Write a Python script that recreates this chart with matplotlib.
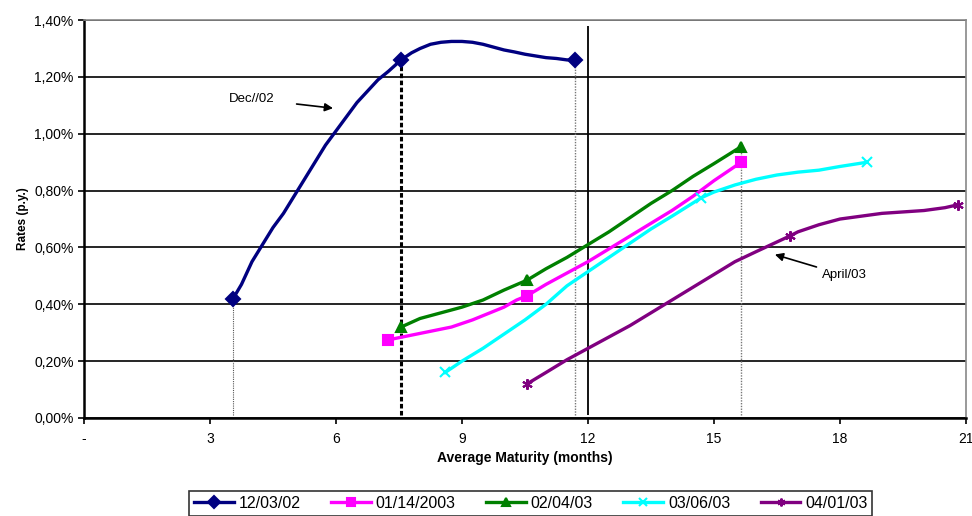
import matplotlib
matplotlib.use("Agg")
import matplotlib.pyplot as plt
from matplotlib.ticker import FuncFormatter

plt.rcParams['font.family'] = ['Liberation Sans', 'DejaVu Sans']

# 12/03/02
dec_x = [3.55, 3.75, 4.0, 4.25, 4.5, 4.75, 5.0, 5.25, 5.5, 5.75, 6.0, 6.25, 6.5, 6.75, 7.0, 7.25, 7.55,
         7.8, 8.0, 8.25, 8.5, 8.75, 9.0, 9.25, 9.5, 9.75, 10.0, 10.25, 10.5, 10.75, 11.0, 11.25, 11.5, 11.7]
dec_y = [0.42, 0.47, 0.55, 0.61, 0.67, 0.72, 0.78, 0.84, 0.90, 0.96, 1.01, 1.06, 1.11, 1.15, 1.19, 1.22, 1.26,
         1.285, 1.30, 1.315, 1.322, 1.325, 1.325, 1.322, 1.315, 1.305, 1.295, 1.288, 1.28, 1.274, 1.268, 1.265, 1.26, 1.26]
# 01/14/2003
jan_x = [7.25, 7.75, 8.25, 8.75, 9.25, 9.75, 10.0, 10.3, 10.55, 11.0, 11.5, 12.0, 12.5, 13.0, 13.5, 14.0, 14.5, 15.0, 15.65]
jan_y = [0.275, 0.29, 0.305, 0.32, 0.345, 0.375, 0.39, 0.415, 0.43, 0.47, 0.51, 0.55, 0.595, 0.64, 0.685, 0.73, 0.78, 0.835, 0.90]
# 02/04/03
feb_x = [7.55, 8.0, 8.5, 9.0, 9.5, 10.0, 10.55, 11.0, 11.5, 12.0, 12.5, 13.0, 13.5, 14.0, 14.5, 15.0, 15.65]
feb_y = [0.32, 0.35, 0.37, 0.39, 0.415, 0.45, 0.485, 0.525, 0.565, 0.61, 0.655, 0.705, 0.755, 0.80, 0.85, 0.895, 0.955]
# 03/06/03
mar_x = [8.6, 9.0, 9.5, 10.0, 10.5, 11.0, 11.5, 12.0, 12.5, 13.0, 13.5, 14.0, 14.7, 15.0, 15.5, 16.0, 16.5, 17.0, 17.5, 18.0, 18.65]
mar_y = [0.16, 0.20, 0.245, 0.295, 0.345, 0.40, 0.465, 0.515, 0.565, 0.615, 0.665, 0.71, 0.775, 0.795, 0.82, 0.84, 0.855, 0.865, 0.872, 0.885, 0.90]
# 04/01/03
apr_x = [10.55, 11.0, 11.5, 12.0, 12.5, 13.0, 13.5, 14.0, 14.5, 15.0, 15.5, 16.0, 16.8, 17.0, 17.5, 18.0, 18.5, 19.0, 19.5, 20.0, 20.5, 20.8]
apr_y = [0.12, 0.16, 0.205, 0.245, 0.285, 0.325, 0.37, 0.415, 0.46, 0.505, 0.55, 0.585, 0.64, 0.655, 0.68, 0.70, 0.71, 0.72, 0.725, 0.73, 0.74, 0.75]

labels = ['12/03/02', '01/14/2003', '02/04/03', '03/06/03', '04/01/03']
colors = ['#000080', '#FF00FF', '#008000', '#00FFFF', '#800080']
markers = ['D', 's', '^', 'x', (6, 2, 0)]
mark_idx = [[0, 16, 33], [0, 8, 18], [0, 6, 16], [0, 12, 20], [0, 12, 21]]

xticks = [0, 3, 6, 9, 12, 15, 18, 21]
yticks = [0.0, 0.2, 0.4, 0.6, 0.8, 1.0, 1.2, 1.4]

fig = plt.figure(figsize=(9.72, 5.16), dpi=100)
ax = fig.add_axes([0.0864, 0.19, 0.9074, 0.771])

# drop lines
ax.vlines(dec_x[0], 0.01, dec_y[0], colors='#555555', linewidth=0.8, linestyles=(0, (1, 1)))
ax.vlines(dec_x[16], 0.01, dec_y[16], colors='black', linewidth=2.2, linestyles=(0, (1.5, 0.8)))
ax.vlines(dec_x[-1], 0.01, dec_y[-1], colors='#777777', linewidth=1.0, linestyles=(0, (1, 1)))
ax.vlines(feb_x[-1], 0.01, feb_y[-1], colors='#777777', linewidth=1.0, linestyles=(0, (1, 1)))
ax.vlines(12, 0.01, 1.38, colors='black', linewidth=1.3)

series = [(dec_x, dec_y), (jan_x, jan_y), (feb_x, feb_y), (mar_x, mar_y), (apr_x, apr_y)]
for (xs, ys), lab, c, m, idx in zip(series, labels, colors, markers, mark_idx):
    ax.plot(xs, ys, color=c, linewidth=2.4, marker=m, markersize=7.5, markevery=idx,
            markerfacecolor=c, markeredgecolor=c, markeredgewidth=1.5, label=lab, zorder=3)

ax.set_xlim(0, 21)
ax.set_ylim(0, 1.4)
ax.set_xticks(xticks)
ax.set_yticks(yticks)
ax.xaxis.set_major_formatter(FuncFormatter(lambda v, p: '-' if v == 0 else f'{int(v)}'))
ax.yaxis.set_major_formatter(FuncFormatter(lambda v, p: f'{v:.2f}%'.replace('.', ',')))
ax.tick_params(labelsize=10, length=4, width=1.2)
ax.tick_params(axis='x', pad=6)
ax.grid(axis='y', color='black', linewidth=1.2)
ax.set_axisbelow(True)
for s in ['left', 'bottom']:
    ax.spines[s].set_linewidth(1.8)
for s in ['top', 'right']:
    ax.spines[s].set_color('#888888')
    ax.spines[s].set_linewidth(1.2)

ax.set_xlabel('Average Maturity (months)', fontsize=10, fontweight='bold', labelpad=4)
ax.set_ylabel('Rates (p.y.)', fontsize=8.5, fontweight='bold', labelpad=4)

ax.annotate('Dec//02', xy=(5.93, 1.09), xytext=(3.45, 1.123), fontsize=9.5, va='center',
            arrowprops=dict(arrowstyle='-|>', color='black', lw=1.2, shrinkA=14, shrinkB=0,
                            mutation_scale=12))
ax.annotate('April/03', xy=(16.45, 0.575), xytext=(17.57, 0.502), fontsize=9.5, va='center',
            arrowprops=dict(arrowstyle='-|>', color='black', lw=1.2, shrinkA=2, shrinkB=0,
                            mutation_scale=12))

leg = fig.legend(loc='upper center', bbox_to_anchor=(0.546, 0.064), ncol=5, fontsize=11.5,
                 frameon=True, fancybox=False, edgecolor='black', handlelength=2.5,
                 columnspacing=1.9, handletextpad=0.3, borderpad=0.3, markerscale=0.75)
leg.get_frame().set_linewidth(1.2)

fig.savefig('out.png', dpi=100)
